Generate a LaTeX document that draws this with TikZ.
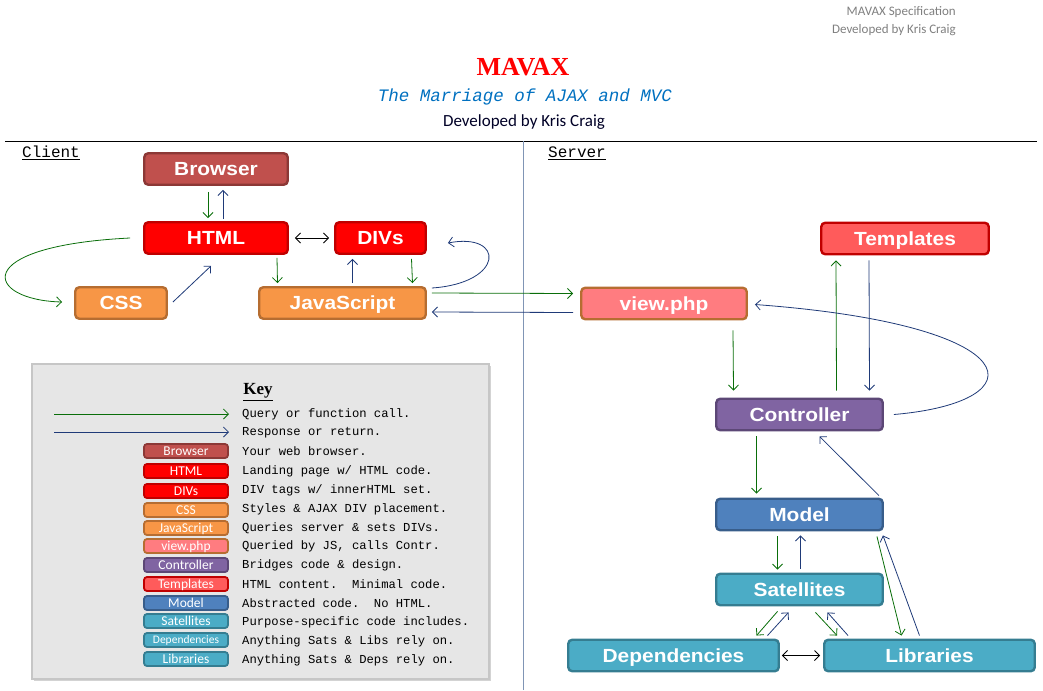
\documentclass[tikz,border=0pt]{standalone}
\usepackage{fontspec}
\setmainfont{Liberation Serif}
\setsansfont{Liberation Sans}
\setmonofont{Liberation Mono}
\newfontfamily\carlito{Carlito}
\newfontfamily\nodefont{Liberation Sans}[FakeStretch=1.1]
\usetikzlibrary{arrows.meta,calc,shadows}
\definecolor{qgreen}{HTML}{0A6E0A}
\definecolor{rnavy}{HTML}{1F3A78}
\definecolor{brF}{HTML}{C0504D}\definecolor{brD}{HTML}{8C3836}
\definecolor{htF}{HTML}{FF0000}\definecolor{htD}{HTML}{C00000}
\definecolor{orF}{HTML}{F79646}\definecolor{orD}{HTML}{B66D31}
\definecolor{vwF}{HTML}{FF7C80}
\definecolor{tpF}{HTML}{FF5B5B}
\definecolor{ctF}{HTML}{8064A2}\definecolor{ctD}{HTML}{5C4776}
\definecolor{mdF}{HTML}{4F81BD}\definecolor{mdD}{HTML}{385D8A}
\definecolor{stF}{HTML}{4BACC6}\definecolor{stD}{HTML}{357D91}
\definecolor{keygray}{HTML}{E6E6E6}
\definecolor{hdrgray}{HTML}{7F7F7F}
\definecolor{subblue}{HTML}{0070C0}
\definecolor{divline}{HTML}{8095B5}
\begin{document}
\begin{tikzpicture}[x=1pt,y=-1pt,
  box/.style={draw, rounded corners=4pt, line width=2.4pt, text=white,
    font=\nodefont\bfseries\fontsize{19}{19}\selectfont, minimum height=31.5pt, inner sep=0pt,
    text height=13.6pt, text depth=0pt},
  badge/.style={draw, rounded corners=3pt, line width=1.8pt, text=white,
    font=\carlito\fontsize{13.5}{13.5}\selectfont, minimum width=84pt, minimum height=14pt, inner sep=0pt,
    text height=8.7pt, text depth=0pt},
  keytext/.style={anchor=west, font=\ttfamily\fontsize{12.2}{12.2}\selectfont, inner sep=0pt},
  arr/.style={-{Straight Barb[length=5pt,width=10pt]}, line width=0.8pt},
  q/.style={arr, draw=qgreen},
  r/.style={arr, draw=rnavy},
  bi/.style={{Straight Barb[length=5pt,width=10pt]}-{Straight Barb[length=5pt,width=10pt]}, line width=0.8pt, draw=black},
]
\useasboundingbox (0,0) rectangle (1043,690);

% header
\node[anchor=east, inner sep=0pt, text=hdrgray, font=\carlito\fontsize{13}{13}\selectfont] (h1) at (956,12) {MAVAX Specification};
\node[anchor=east, inner sep=0pt, text=hdrgray, font=\carlito\fontsize{13}{13}\selectfont] (h2) at (956,30) {Developed by Kris Craig};
\node[inner sep=0pt, text=red, font=\rmfamily\bfseries\fontsize{26}{26}\selectfont] (title) at (523,67) {MAVAX};
\node[inner sep=0pt, text=subblue, font=\ttfamily\itshape\fontsize{17.5}{17.5}\selectfont] (sub) at (525,97) {The Marriage of AJAX and MVC};
\node[inner sep=0pt, text=black!85!blue, font=\carlito\fontsize{17}{17}\selectfont] (dev) at (524,122) {Developed by Kris Craig};

% dividers
\draw[line width=0.8pt] (5,141) -- (1037,141);
\draw[line width=0.8pt, divline] (523,141) -- (523,690);
\node[anchor=west, inner sep=0pt, font=\ttfamily\fontsize{16}{16}\selectfont] (client) at (22,153) {\underline{Client}};
\node[anchor=west, inner sep=0pt, font=\ttfamily\fontsize{16}{16}\selectfont] (server) at (548,153) {\underline{Server}};

% client nodes
\node[box, fill=brF, draw=brD, minimum width=143.5pt] (browser) at (216,169) {Browser};
\node[box, fill=htF, draw=htD, minimum width=143.5pt] (html) at (216,238) {HTML};
\node[box, fill=htF, draw=htD, minimum width=90.5pt] (divs) at (380.5,238) {DIVs};
\node[box, fill=orF, draw=orD, minimum width=91.5pt] (css) at (121,303) {CSS};
\node[box, fill=orF, draw=orD, minimum width=166.5pt] (js) at (342.5,303) {JavaScript};

% server nodes
\node[box, fill=vwF, draw=orD, minimum width=165.5pt] (view) at (664,303.5) {view.php};
\node[box, fill=tpF, draw=htD, minimum width=167.5pt] (tmpl) at (905,238.5) {Templates};
\node[box, fill=ctF, draw=ctD, minimum width=166.5pt] (ctrl) at (799.5,414.5) {Controller};
\node[box, fill=mdF, draw=mdD, minimum width=166.5pt] (model) at (799.5,514.5) {Model};
\node[box, fill=stF, draw=stD, minimum width=166.5pt] (sat) at (799.5,589.5) {Satellites};
\node[box, fill=stF, draw=stD, minimum width=210.5pt] (deps) at (673.5,655.5) {Dependencies};
\node[box, fill=stF, draw=stD, minimum width=210.5pt] (libs) at (929.5,655.5) {Libraries};

% client connectors
\draw[q] ($(browser.south)+(-8,6)$) -- ($(html.north)+(-8,-3)$);
\draw[r] ($(html.north)+(7,-2)$) -- ($(browser.south)+(7,4)$);
\draw[bi] ($(html.east)+(6,0)$) -- ($(divs.west)+(-5,0)$);
\draw[q] ($(html.west)+(-13,0)$) .. controls (-32,246) and (-15,300) .. ($(css.west)+(-12,-1)$);
\draw[r] ($(css.east)+(5,-1)$) -- ($(html.south)+(-5,11)$);
\draw[q] ($(html.south)+(61,3)$) -- ($(js.north)+(-65,-3)$);
\draw[r] ($(js.north)+(10,-3)$) -- ($(divs.south)+(-28,4)$);
\draw[q] ($(divs.south)+(31,4)$) -- ($(js.north)+(70,-3)$);
\draw[r] ($(js.east)+(5,-15)$) .. controls (505,283) and (505,232) .. ($(divs.east)+(21,5)$);
\draw[q] ($(js.east)+(5,-10)$) -- ($(view.west)+(-7,-10)$);
\draw[r] ($(view.west)+(-7,9)$) -- ($(js.east)+(5,9)$);

% server connectors
\draw[q] ($(view.south)+(69,10)$) -- ($(ctrl.north)+(-66,-7)$);
\draw[q] ($(ctrl.north)+(37,-7)$) -- ($(tmpl.south)+(-69,5)$);
\draw[r] ($(tmpl.south)+(-36,5)$) -- ($(ctrl.north)+(70,-7)$);
\draw[r] ($(ctrl.east)+(10,0)$) .. controls (1040,402) and (1032,325) .. ($(view.east)+(7,1)$);
\draw[q] ($(ctrl.south)+(-43,5)$) -- ($(model.north)+(-43,-4)$);
\draw[r] ($(model.north east)+(-5,-2)$) -- ($(ctrl.south)+(20,5)$);
\draw[q] ($(model.south)+(-22,5)$) -- ($(sat.north)+(-22,-3)$);
\draw[r] ($(sat.north)+(1,-4)$) -- ($(model.south)+(1,4)$);
\draw[q] ($(model.south east)+(-7,5)$) -- ($(libs.north)+(-28,-3)$);
\draw[r] ($(libs.north)+(-10,-3)$) -- ($(model.south east)+(-1,4)$);
\draw[q] ($(sat.south)+(-22,5)$) -- ($(deps.north)+(83,-3)$);
\draw[r] ($(deps.north)+(94,-3)$) -- ($(sat.south)+(-11,6)$);
\draw[q] ($(sat.south)+(16,6)$) -- ($(libs.north west)+(14,-3)$);
\draw[r] ($(libs.north west)+(25,-3)$) -- ($(sat.south)+(28,6)$);
\draw[bi] ($(deps.east)+(2,0)$) -- ($(libs.west)+(-3,0)$);

% key
\node[draw=gray!45, line width=2pt, fill=keygray, minimum width=457pt, minimum height=315pt, inner sep=0pt,
  drop shadow={opacity=0.35, shadow xshift=2pt, shadow yshift=-2pt}] (keybox) at (260.5,521.5) {};
\node[inner sep=0pt, font=\rmfamily\bfseries\fontsize{17}{17}\selectfont] (keyt) at (258,392) {\underline{Key}};
\coordinate (qa) at (54,414); \coordinate (qb) at (229,414);
\coordinate (ra) at (54,432); \coordinate (rb) at (229,432);
\draw[q] (qa) -- (qb);
\draw[r] (ra) -- (rb);
\node[keytext] (t1) at (242,414) {Query or function call.};
\node[keytext] (t2) at (242,433) {Response or return.};

\node[badge, fill=brF, draw=brD] (kb1) at (186,451) {Browser};
\node[badge, fill=htF, draw=htD] (kb2) at (186,471) {HTML};
\node[badge, fill=htF, draw=htD] (kb3) at (186,491) {DIVs};
\node[badge, fill=orF, draw=orD] (kb4) at (186,510) {CSS};
\node[badge, fill=orF, draw=orD] (kb5) at (186,528) {JavaScript};
\node[badge, fill=vwF, draw=orD] (kb6) at (186,546) {view.php};
\node[badge, fill=ctF, draw=ctD] (kb7) at (186,565) {Controller};
\node[badge, fill=tpF, draw=htD] (kb8) at (186,584) {Templates};
\node[badge, fill=mdF, draw=mdD] (kb9) at (186,603) {Model};
\node[badge, fill=stF, draw=stD] (kb10) at (186,621) {Satellites};
\node[badge, fill=stF, draw=stD, font=\carlito\fontsize{11.5}{11.5}\selectfont, text height=7.4pt] (kb11) at (186,640) {Dependencies};
\node[badge, fill=stF, draw=stD] (kb12) at (186,659) {Libraries};

\node[keytext] at (242,451) {Your web browser.};
\node[keytext] at (242,471) {Landing page w/ HTML code.};
\node[keytext] at (242,490) {DIV tags w/ innerHTML set.};
\node[keytext] at (242,509) {Styles \& AJAX DIV placement.};
\node[keytext] at (242,528) {Queries server \& sets DIVs.};
\node[keytext] at (242,546) {Queried by JS, calls Contr.};
\node[keytext] at (242,565) {Bridges code \& design.};
\node[keytext] at (242,584) {HTML content.\ \ Minimal code.};
\node[keytext] at (242,603) {Abstracted code.\ \ No HTML.};
\node[keytext] at (242,622) {Purpose-specific code includes.};
\node[keytext] at (242,641) {Anything Sats \& Libs rely on.};
\node[keytext] at (242,660) {Anything Sats \& Deps rely on.};
\end{tikzpicture}
\end{document}
